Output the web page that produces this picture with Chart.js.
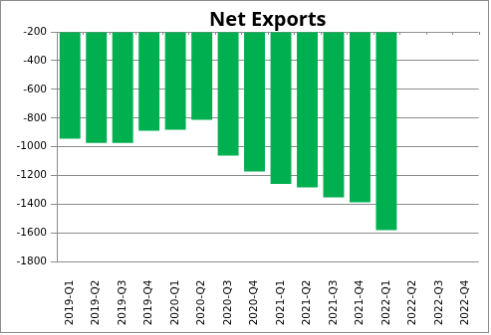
<!DOCTYPE html>
<html>
<head>
<meta charset="utf-8" />
<title>Net Exports</title>
<script src="https://cdn.jsdelivr.net/npm/chart.js@4"></script>
<style>
  body { margin: 0; background: #fff; }
  #myChart { border: 1px solid #8c8c8c; display: block; }
</style>
</head>
<body>
<canvas id="myChart" width="489" height="333"></canvas>
<script>
// quarters on the x axis
var quarters = ["2019-Q1","2019-Q2","2019-Q3","2019-Q4","2020-Q1","2020-Q2","2020-Q3","2020-Q4",
                "2021-Q1","2021-Q2","2021-Q3","2021-Q4","2022-Q1","2022-Q2","2022-Q3","2022-Q4"];
// net exports per quarter (last quarters not published yet)
var netExports = [-943,-972,-972,-887,-880,-811,-1060,-1171,-1258,-1281,-1350,-1385,-1579,null,null,null];
var yMin = -1800, yMax = -200, yStep = 200;

var gridColor = "#8c8c8c";
var tickFont = { family: "DejaVu Sans", size: 10.5 };

// title centred over the plot area, like the spreadsheet does it
var plotTitle = {
  id: 'plotTitle',
  afterDraw: function(chart) {
    var c = chart.ctx, a = chart.chartArea;
    c.save();
    c.font = "bold 20px 'Open Sans'";
    c.fillStyle = "#000";
    c.textAlign = "center";
    c.textBaseline = "middle";
    c.fillText("Net Exports", (a.left + a.right) / 2, 19);
    // small tick marks under the top edge, between categories
    var x = chart.scales.x;
    c.strokeStyle = gridColor;
    c.lineWidth = 1;
    c.beginPath();
    for (var i = 0; i <= quarters.length; i++) {
      var px = Math.round(a.left + i * (a.right - a.left) / quarters.length) + 0.5;
      c.moveTo(px, a.top);
      c.lineTo(px, a.top + 3);
    }
    c.stroke();
    c.restore();
  }
};

var ctx = document.getElementById("myChart");
var myChart = new Chart(ctx, {
  type: 'bar',
  data: {
    labels: quarters,
    datasets: [{
      label: "Net Exports",
      data: netExports,
      base: yMax,
      backgroundColor: "#00b050",
      borderWidth: 0,
      categoryPercentage: 1,
      barPercentage: 0.79
    }]
  },
  options: {
    responsive: false,
    animation: false,
    layout: { padding: { top: 31, right: 2, bottom: 0, left: 0 } },
    plugins: {
      legend: { display: false },
      tooltip: { enabled: false },
      title: { display: false }
    },
    scales: {
      x: {
        grid: { display: false },
        border: { display: false },
        ticks: { color: "#000", font: tickFont, minRotation: 90, maxRotation: 90, padding: 10, autoSkip: false },
        afterFit: function(s) { s.height = 70.5; }
      },
      y: {
        min: yMin,
        max: yMax,
        grid: { color: gridColor, tickLength: 6 },
        border: { display: true, color: gridColor },
        ticks: {
          stepSize: yStep, color: "#000", font: tickFont, padding: 4,
          callback: function(v) { return String(v); }
        },
        afterFit: function(s) { s.width = 56; }
      }
    }
  },
  plugins: [plotTitle]
});
</script>
</body>
</html>
